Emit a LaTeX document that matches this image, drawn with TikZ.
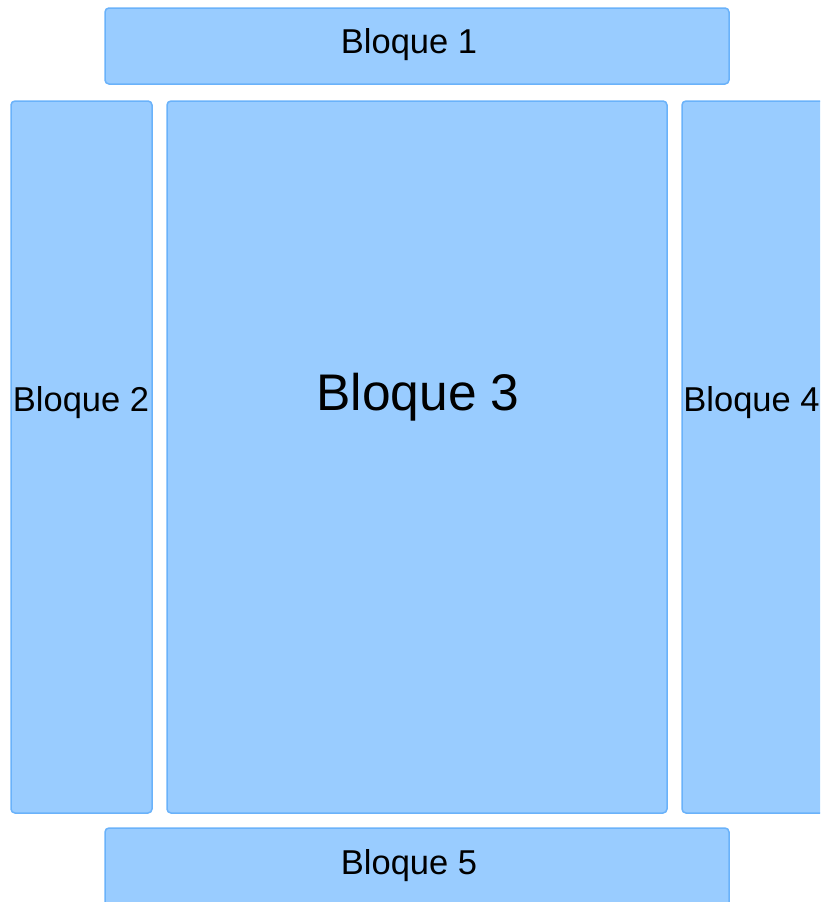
\documentclass[tikz,border=0pt]{standalone}
\usepackage{fontspec}
\setmainfont{Liberation Sans}
\definecolor{boxfill}{HTML}{99CCFF}
\definecolor{boxline}{HTML}{6AB2FA}
\begin{document}
\begin{tikzpicture}[x=1pt,y=-1pt,
  blockbox/.style={draw=boxline,fill=boxfill,line width=1.5pt,rounded corners=4pt},
  lbl/.style={inner sep=0pt,anchor=base,text=black,font=\fontsize{34.5}{38}\selectfont}]
\useasboundingbox (0,0) rectangle (820,902);
\clip (0,0) rectangle (820,902);
\draw[blockbox] (105,8) rectangle (729,84) coordinate (b1);
\draw[blockbox] (11,101) rectangle (152,813) coordinate (b2);
\draw[blockbox] (167,101) rectangle (667,813) coordinate (b3);
\draw[blockbox] (682,101) rectangle (826,813) coordinate (b4);
\draw[blockbox] (105,828) rectangle (729,910) coordinate (b5);
\node[lbl] (t1) at (409,53.5) {Bloque 1};
\node[lbl] (t2) at (81,411.5) {Bloque 2};
\node[lbl,font=\fontsize{51.5}{56}\selectfont] (t3) at (418,410) {Bloque 3};
\node[lbl] (t4) at (751.5,411.5) {Bloque 4};
\node[lbl] (t5) at (409,874) {Bloque 5};
\end{tikzpicture}
\end{document}
